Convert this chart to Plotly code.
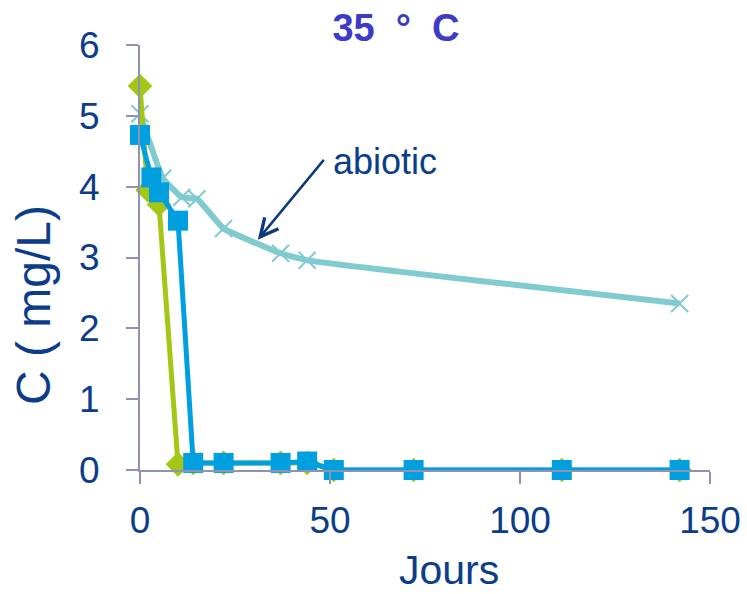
import plotly.graph_objects as go

# Data
days_abiotic = [0, 6, 11, 15, 22, 37, 44, 142]
c_abiotic = [5.03, 4.12, 3.85, 3.83, 3.41, 3.06, 2.96, 2.35]

days_green = [0, 2, 5, 10, 14, 22, 37, 44, 51, 72, 111, 142]
c_green = [5.42, 3.95, 3.75, 0.08, 0.1, 0.1, 0.1, 0.1, 0.0, 0.0, 0.0, 0.0]

days_blue = [0, 3, 5, 10, 14, 22, 37, 44, 51, 72, 111, 142]
c_blue = [4.73, 4.13, 3.92, 3.52, 0.1, 0.1, 0.1, 0.12, 0.0, 0.0, 0.0, 0.0]

x_ticks = [0, 50, 100, 150]
y_ticks = [0, 1, 2, 3, 4, 5, 6]

TEXT = "#0b3d8a"
AXIS = "#8e93b3"
FONT = "Liberation Sans, Arial, sans-serif"

# plot area in pixels
L, R, T, B = 140, 710, 45, 470
W, H = 747, 594

def px_x(p):
    return (p - L) / (R - L)

def px_y(p):
    return (B - p) / (B - T)

fig = go.Figure()
fig.add_trace(go.Scatter(
    x=days_abiotic, y=c_abiotic, mode="lines+markers", name="abiotic",
    line=dict(color="#7fcbd0", width=6, shape="spline", smoothing=0.3),
    marker=dict(symbol="x-thin", size=17, line=dict(color="#7fcbd0", width=2)),
    cliponaxis=False))
fig.add_trace(go.Scatter(
    x=days_green, y=c_green, mode="lines+markers", name="green",
    line=dict(color="#a4c614", width=5),
    marker=dict(symbol="diamond", size=19, color="#a4c614"),
    cliponaxis=False))
fig.add_trace(go.Scatter(
    x=days_blue, y=c_blue, mode="lines+markers", name="blue",
    line=dict(color="#009fe0", width=5),
    marker=dict(symbol="square", size=20, color="#009fe0"),
    cliponaxis=False))

# arrow
fig.add_annotation(x=31, y=3.25, ax=48.7, ay=4.4, xref="x", yref="y",
                   axref="x", ayref="y", text="", showarrow=True,
                   arrowhead=5, arrowsize=1.4, arrowwidth=2.5, arrowcolor="#0d3a7c")
fig.add_annotation(x=50.3, y=4.36, xref="x", yref="y", text="abiotic",
                   showarrow=False, xanchor="left", yanchor="middle",
                   font=dict(family=FONT, size=36, color=TEXT))

# axis titles
fig.add_annotation(x=px_x(449), y=px_y(570), xref="paper", yref="paper",
                   text="Jours", showarrow=False, xanchor="center", yanchor="middle",
                   borderpad=0,
                   font=dict(family=FONT, size=41, color=TEXT))
fig.add_annotation(x=px_x(33), y=px_y(305), xref="paper", yref="paper",
                   text="C ( mg/L)", textangle=-90, showarrow=False,
                   xanchor="center", yanchor="middle",
                   font=dict(family=FONT, size=48, color=TEXT))

NB = "\u00a0"
fig.update_layout(
    width=W, height=H,
    margin=dict(l=L, r=W - R, t=T, b=H - B),
    paper_bgcolor="white", plot_bgcolor="white",
    showlegend=False,
    font=dict(family=FONT, color=TEXT),
    title=dict(text="<b>35" + NB * 2 + "°" + NB * 2 + "C</b>", x=396 / W, xanchor="center",
               y=1 - 28 / H, yanchor="middle",
               font=dict(family=FONT, size=38, color="#3c3cc8")),
)
fig.update_xaxes(range=[0, 150], tickvals=x_ticks, showgrid=False, zeroline=False,
                 automargin=False,
                 showline=True, linecolor=AXIS, linewidth=2,
                 ticks="outside", ticklen=12, tickcolor=AXIS, tickwidth=2,
                 ticklabelstandoff=5,
                 tickfont=dict(size=37, color=TEXT, family=FONT))
fig.update_yaxes(range=[0, 6], tickvals=y_ticks, showgrid=False, zeroline=False,
                 automargin=False,
                 showline=True, linecolor=AXIS, linewidth=2,
                 ticks="outside", ticklen=12, tickcolor=AXIS, tickwidth=2,
                 ticklabelstandoff=19,
                 tickfont=dict(size=37, color=TEXT, family=FONT))

fig.write_html("out.html", config={"displayModeBar": False},
               post_script="document.body.style.margin='0';")
